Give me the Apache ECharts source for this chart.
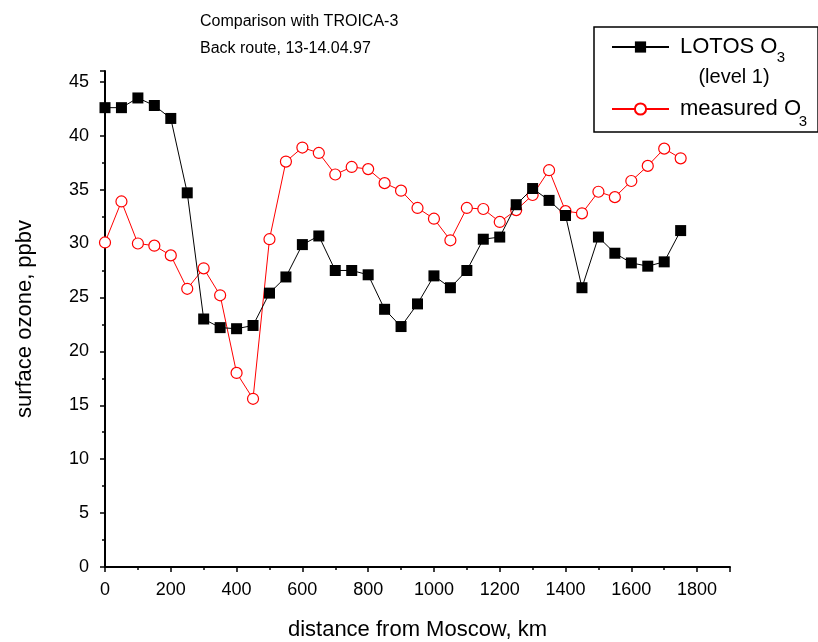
<!DOCTYPE html>
<html>
<head>
<meta charset="utf-8">
<script src="https://cdn.jsdelivr.net/npm/echarts@6/dist/echarts.min.js"></script>
<style>
  html, body { margin: 0; padding: 0; background: #fff; }
  #main { width: 818px; height: 642px; }
</style>
</head>
<body>
<div id="main"></div>
<script>
// distance from Moscow, km
const distances = [0, 50, 100, 150, 200, 250, 300, 350, 400, 450, 500, 550, 600, 650, 700, 750, 800, 850,
  900, 950, 1000, 1050, 1100, 1150, 1200, 1250, 1300, 1350, 1400, 1450, 1500, 1550, 1600, 1650, 1700, 1750];
// LOTOS O3 (level 1), ppbv
const lotosO3 = [42.6, 42.6, 43.5, 42.8, 41.6, 34.7, 23.0, 22.2, 22.1, 22.4, 25.4, 26.9, 29.9, 30.7, 27.5, 27.5,
  27.1, 23.9, 22.3, 24.4, 27.0, 25.9, 27.5, 30.4, 30.6, 33.6, 35.1, 34.0, 32.6, 25.9, 30.6, 29.1, 28.2, 27.9, 28.3, 31.2];
// measured O3, ppbv
const measuredO3 = [30.1, 33.9, 30.0, 29.8, 28.9, 25.8, 27.7, 25.2, 18.0, 15.6, 30.4, 37.6, 38.9, 38.4, 36.4, 37.1,
  36.9, 35.6, 34.9, 33.3, 32.3, 30.3, 33.3, 33.2, 32.0, 33.1, 34.5, 36.8, 33.0, 32.8, 34.8, 34.3, 35.8, 37.2, 38.8, 37.9];

const pairs = (xs, ys) => xs.map((x, i) => [x, ys[i]]);

const chart = echarts.init(document.getElementById("main"));
const font = "Liberation Sans, Arial, sans-serif";

chart.setOption({
  backgroundColor: "#fff",
  animation: false,
  title: {
    text: "Comparison with TROICA-3\nBack route, 13-14.04.97",
    left: 200,
    top: 8,
    padding: 0,
    textStyle: { fontFamily: font, fontSize: 16, fontWeight: "normal", color: "#000", lineHeight: 27 }
  },
  legend: {
    orient: "vertical",
    left: 594,
    top: 27,
    padding: [9, 17, 12, 17],
    itemGap: 40,
    itemWidth: 57,
    itemHeight: 14,
    borderColor: "#000",
    borderWidth: 1.5,
    borderRadius: 0,
    data: ["LOTOS O3", "measured O3"],
    formatter: name => name === "LOTOS O3" ? "{t|LOTOS O}" : "{t|measured O}",
    textStyle: {
      fontFamily: font,
      color: "#000",
      rich: {
        t: { fontFamily: font, fontSize: 22, color: "#000", padding: [0, 0, 0, 6] }
      }
    }
  },
  // subscripts and the second legend line
  graphic: [
    { type: "text", x: 781, y: 58, style: { text: "3", font: "15px " + font, fill: "#000", align: "center", verticalAlign: "middle" } },
    { type: "text", x: 803, y: 122, style: { text: "3", font: "15px " + font, fill: "#000", align: "center", verticalAlign: "middle" } },
    { type: "text", x: 734, y: 77, style: { text: "(level 1)", font: "20px " + font, fill: "#000", align: "center", verticalAlign: "middle" } }
  ],
  grid: { left: 105, right: 88, top: 71, bottom: 75, outerBoundsMode: "none" },
  xAxis: {
    type: "value",
    min: 0,
    max: 1900,
    interval: 200,
    name: "distance from Moscow, km",
    nameLocation: "middle",
    nameGap: 52,
    nameTextStyle: { fontFamily: font, fontSize: 22, color: "#000" },
    axisLine: { lineStyle: { color: "#000", width: 2 } },
    axisTick: { length: 5, lineStyle: { color: "#000", width: 1.5 } },
    minorTick: { show: true, splitNumber: 2, length: 3, lineStyle: { color: "#000", width: 1.5 } },
    axisLabel: {
      fontFamily: font, fontSize: 18, color: "#000", margin: 14,
      formatter: v => (v % 200 === 0 ? String(v) : "")
    },
    splitLine: { show: false }
  },
  yAxis: {
    type: "value",
    min: 0,
    max: 46,
    interval: 5,
    name: "surface ozone, ppbv",
    nameLocation: "middle",
    nameRotate: 90,
    nameGap: 69,
    nameTextStyle: { fontFamily: font, fontSize: 22, color: "#000" },
    axisLine: { show: true, lineStyle: { color: "#000", width: 2 } },
    axisTick: { show: true, length: 5, lineStyle: { color: "#000", width: 1.5 } },
    minorTick: { show: true, splitNumber: 2, length: 3, lineStyle: { color: "#000", width: 1.5 } },
    axisLabel: {
      fontFamily: font, fontSize: 18, color: "#000", margin: 16,
      formatter: v => (v % 5 === 0 ? String(v) : "")
    },
    splitLine: { show: false }
  },
  series: [
    {
      name: "LOTOS O3",
      type: "line",
      z: 3,
      data: pairs(distances, lotosO3),
      symbol: "rect",
      symbolSize: 11,
      showAllSymbol: true,
      lineStyle: { color: "#000", width: 1 },
      itemStyle: { color: "#000", borderColor: "#000", borderWidth: 0 }
    },
    {
      name: "measured O3",
      type: "line",
      z: 2,
      data: pairs(distances, measuredO3),
      symbol: "circle",
      symbolSize: 11,
      showAllSymbol: true,
      lineStyle: { color: "#ff0000", width: 1 },
      itemStyle: { color: "#fff", borderColor: "#ff0000", borderWidth: 1.2 }
    }
  ]
});
</script>
</body>
</html>
